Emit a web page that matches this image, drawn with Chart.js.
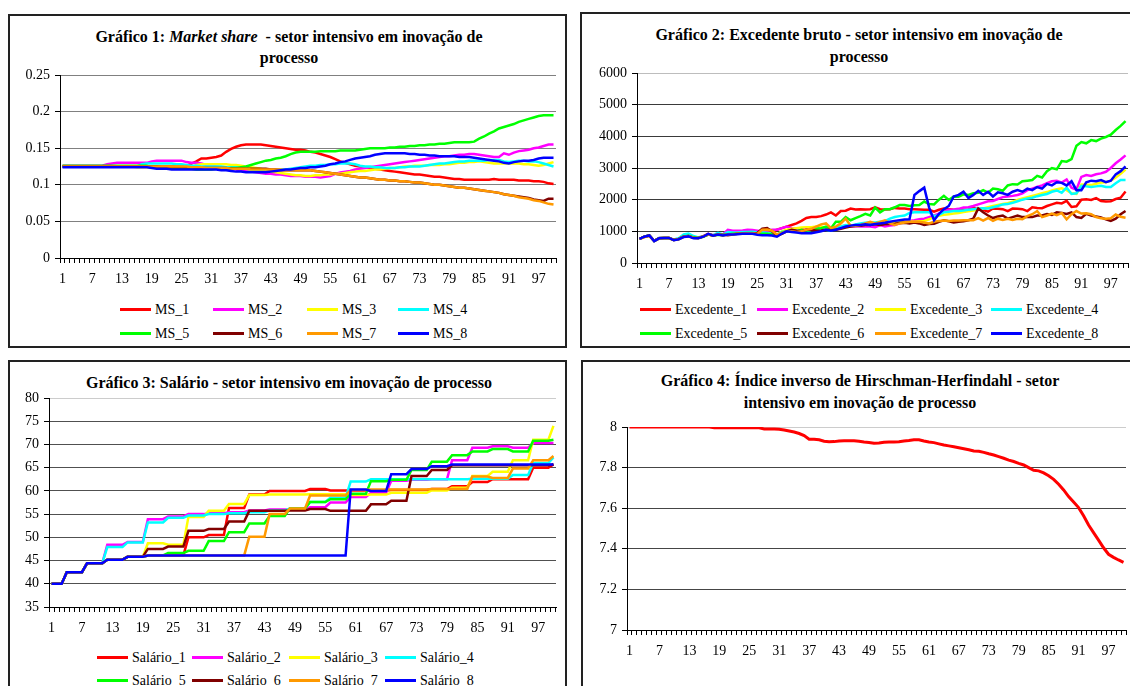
<!DOCTYPE html>
<html>
<head>
<meta charset="utf-8">
<script src="https://cdn.jsdelivr.net/npm/chart.js@4.4.1/dist/chart.umd.min.js"></script>
<style>
  body { margin: 0; width: 1130px; height: 686px; overflow: hidden; background: #fff; position: relative;
         font-family: "Liberation Serif", "Times New Roman", serif; color: #000; }
  .panel { position: absolute; box-sizing: border-box; border: 2px solid #222; }
  canvas { position: absolute; }
  .title { position: absolute; width: 600px; text-align: center; font-weight: bold; font-size: 16px;
           line-height: 18px; white-space: nowrap; }
  .leg { position: absolute; font-size: 14px; line-height: 16px; white-space: nowrap; }
  .leg .sw { display: inline-block; width: 31px; height: 3px; vertical-align: middle; margin-right: 4px; position: relative; top: -1px; }
</style>
</head>
<body>
<div class="panel" style="left:8px;top:14px;width:559px;height:334px"></div>
<div class="panel" style="left:580px;top:12px;width:560px;height:336px"></div>
<div class="panel" style="left:8px;top:360px;width:559px;height:340px"></div>
<div class="panel" style="left:581px;top:360px;width:560px;height:340px"></div>

<div class="title" style="left:-11px;top:28px">Gráfico 1: <i>Market share</i> &nbsp;- setor intensivo em inovação de</div>
<div class="title" style="left:-11px;top:49px">processo</div>
<div class="title" style="left:559px;top:26px">Gráfico 2: Excedente bruto - setor intensivo em inovação de</div>
<div class="title" style="left:559px;top:48px">processo</div>
<div class="title" style="left:-11px;top:374px">Gráfico 3: Salário - setor intensivo em inovação de processo</div>
<div class="title" style="left:560px;top:372px">Gráfico 4: Índice inverso de Hirschman-Herfindahl - setor</div>
<div class="title" style="left:560px;top:394px">intensivo em inovação de processo</div>

<canvas id="c1"></canvas>
<canvas id="c2"></canvas>
<canvas id="c3"></canvas>
<canvas id="c4"></canvas>

<div id="legends"></div>

<script>
// ---- data ----
const periods = Array.from({ length: 100 }, (_, i) => String(i + 1));
const xTickLabels = ['1', '7', '13', '19', '25', '31', '37', '43', '49', '55', '61', '67', '73', '79', '85', '91', '97'];

// Gráfico 1: market share
const msNames = ['MS_1', 'MS_2', 'MS_3', 'MS_4', 'MS_5', 'MS_6', 'MS_7', 'MS_8'];
const msTicks = [0, 0.05, 0.1, 0.15, 0.2, 0.25];
const ms1 = [.125,.125,.125,.125,.125,.125,.125,.125,.125,.125, .125,.125,.125,.125,.125,.125,.125,.125,.125,.125,
  .125,.125,.125,.125,.125,.126,.129,.132,.136,.136, .137,.138,.140,.145,.149,.152,.154,.155,.155,.155,
  .155,.154,.153,.152,.151,.150,.149,.148,.148,.147, .145,.144,.142,.140,.138,.135,.132,.130,.128,.126,
  .125,.124,.123,.122,.121,.120,.119,.118,.117,.116, .115,.114,.114,.113,.112,.111,.111,.110,.109,.108,
  .108,.107,.107,.107,.107,.107,.107,.108,.107,.107, .107,.107,.106,.106,.106,.105,.105,.104,.102,.101];
const ms2 = [.126,.126,.126,.126,.126,.126,.126,.126,.126,.128, .129,.130,.130,.130,.130,.130,.130,.130,.132,.133,
  .133,.133,.133,.133,.133,.131,.130,.130,.129,.127, .126,.125,.124,.123,.122,.121,.120,.119,.118,.117,
  .116,.115,.115,.114,.114,.113,.112,.112,.112,.111, .111,.111,.110,.111,.112,.115,.117,.118,.119,.121,
  .122,.123,.124,.125,.126,.127,.128,.129,.130,.131, .132,.133,.134,.135,.136,.137,.138,.139,.139,.140,
  .141,.141,.142,.142,.141,.140,.139,.138,.138,.143, .141,.144,.146,.147,.148,.150,.151,.153,.155,.155];
const ms3 = [.125,.125,.125,.125,.125,.125,.125,.125,.125,.125, .125,.125,.125,.125,.125,.124,.124,.124,.124,.124,
  .124,.124,.124,.124,.124,.124,.124,.127,.128,.128, .128,.128,.128,.128,.127,.127,.126,.125,.124,.123,
  .122,.120,.118,.117,.116,.115,.114,.113,.113,.112, .112,.113,.113,.114,.114,.115,.115,.116,.117,.118,
  .119,.119,.120,.121,.121,.122,.123,.123,.124,.125, .125,.126,.126,.126,.127,.127,.127,.128,.128,.129,
  .130,.130,.131,.131,.132,.131,.130,.129,.129,.129, .129,.129,.129,.128,.128,.127,.126,.127,.129,.131];
const ms4 = [.125,.125,.125,.125,.125,.125,.125,.125,.125,.125, .125,.125,.125,.125,.125,.125,.128,.129,.129,.129,
  .129,.129,.129,.128,.128,.127,.126,.126,.125,.125, .125,.125,.125,.124,.124,.124,.123,.122,.121,.120,
  .120,.120,.120,.120,.121,.121,.122,.123,.124,.125, .126,.126,.127,.127,.128,.128,.129,.129,.129,.128,
  .126,.125,.125,.124,.124,.123,.123,.123,.124,.124, .125,.125,.125,.126,.127,.128,.129,.129,.130,.131,
  .132,.132,.133,.133,.133,.133,.134,.134,.134,.132, .131,.132,.133,.133,.132,.132,.131,.129,.127,.125];
const ms5 = [.126,.126,.126,.126,.126,.126,.126,.126,.126,.126, .126,.126,.126,.126,.126,.126,.126,.126,.124,.123,
  .122,.122,.122,.122,.122,.122,.122,.121,.121,.121, .121,.122,.122,.122,.123,.123,.124,.125,.127,.129,
  .131,.133,.134,.136,.137,.139,.142,.144,.145,.145, .145,.145,.146,.146,.146,.146,.147,.147,.147,.147,
  .148,.149,.150,.150,.150,.150,.151,.151,.152,.152, .153,.153,.154,.154,.155,.155,.156,.156,.157,.158,
  .158,.158,.158,.159,.163,.166,.170,.173,.177,.179, .181,.183,.186,.188,.190,.192,.194,.195,.195,.195];
const ms6 = [.125,.125,.125,.125,.125,.125,.125,.125,.125,.125, .125,.125,.125,.125,.125,.125,.125,.125,.125,.125,
  .124,.124,.124,.124,.124,.124,.124,.123,.123,.123, .123,.123,.123,.123,.122,.122,.122,.122,.122,.122,
  .122,.122,.121,.121,.120,.120,.120,.120,.120,.120, .120,.119,.118,.117,.116,.115,.114,.113,.112,.111,
  .110,.110,.109,.108,.107,.107,.106,.106,.105,.105, .104,.103,.103,.102,.101,.100,.100,.099,.098,.097,
  .096,.096,.095,.094,.093,.092,.091,.090,.089,.087, .086,.085,.084,.083,.082,.080,.079,.078,.081,.081];
const ms7 = [.125,.125,.125,.125,.125,.125,.125,.125,.125,.125, .125,.125,.125,.125,.125,.125,.125,.125,.125,.125,
  .125,.125,.125,.125,.125,.125,.124,.124,.124,.123, .123,.123,.123,.123,.122,.122,.122,.122,.121,.121,
  .121,.121,.121,.121,.121,.120,.120,.120,.120,.120, .120,.119,.118,.117,.116,.115,.114,.113,.112,.111,
  .110,.110,.109,.108,.107,.107,.106,.106,.105,.105, .104,.103,.103,.102,.101,.100,.100,.099,.098,.097,
  .096,.096,.095,.094,.093,.092,.091,.090,.089,.087, .086,.085,.083,.082,.081,.079,.078,.076,.074,.073];
const ms8 = [.124,.124,.124,.124,.124,.124,.124,.124,.124,.124, .124,.124,.124,.124,.124,.124,.124,.124,.123,.122,
  .122,.122,.121,.121,.121,.121,.121,.121,.121,.121, .121,.121,.120,.120,.119,.118,.118,.117,.117,.117,
  .117,.117,.118,.119,.120,.121,.121,.122,.123,.123, .124,.124,.125,.126,.128,.129,.131,.132,.134,.136,
  .137,.138,.139,.141,.142,.143,.143,.143,.143,.143, .142,.142,.141,.141,.140,.140,.139,.139,.139,.139,
  .138,.138,.138,.137,.136,.135,.134,.133,.132,.130, .129,.131,.132,.133,.133,.134,.136,.137,.137,.137];

// Gráfico 2: excedente bruto
const excNames = ['Excedente_1', 'Excedente_2', 'Excedente_3', 'Excedente_4', 'Excedente_5', 'Excedente_6', 'Excedente_7', 'Excedente_8'];
const excTicks = [0, 1000, 2000, 3000, 4000, 5000, 6000];
const exc1 = [760,820,860,700,780,790,790,730,760,830, 850,800,790,840,900,880,900,880,920,940,
  950,960,950,960,940,1000,1050,1000,1050,1100, 1150,1200,1250,1330,1420,1450,1450,1480,1530,1600,
  1500,1640,1650,1720,1690,1700,1690,1700,1760,1700, 1690,1700,1740,1720,1720,1700,1700,1690,1680,1680,
  1620,1680,1720,1700,1680,1670,1680,1690,1740,1700, 1680,1620,1720,1710,1700,1640,1720,1710,1700,1640,
  1760,1740,1730,1800,1850,1900,1880,1960,1770,1790, 2000,2010,1990,2050,1960,1940,1950,2020,2060,2260];
const exc2 = [760,830,870,700,790,790,800,740,770,840, 870,820,800,850,920,880,920,900,1050,1020,
  1020,1030,1050,1040,1020,1000,1020,1050,1050,1100, 1150,1100,1080,1060,1080,1100,1100,1120,1080,1050,
  1130,1150,1180,1150,1170,1150,1160,1150,1130,1200, 1150,1180,1200,1250,1300,1330,1350,1380,1400,1450,
  1500,1560,1620,1680,1690,1710,1750,1760,1800,1850, 1900,1950,1960,2020,2080,2100,2120,2150,2200,2300,
  2350,2400,2450,2520,2580,2600,2540,2640,2380,2320, 2720,2780,2750,2800,2830,2880,3000,3150,3270,3400];
const exc3 = [760,820,860,700,780,790,790,730,760,830, 860,810,790,840,910,870,900,880,920,930,
  940,950,950,950,930,920,930,900,900,1000, 1050,1080,1100,1120,1130,1130,1150,1150,1100,1080,
  1120,1150,1180,1160,1200,1220,1200,1250,1230,1250, 1260,1280,1280,1300,1300,1310,1300,1320,1330,1380,
  1450,1490,1520,1540,1560,1580,1610,1630,1660,1690, 1720,1760,1800,1830,1860,1890,1940,1990,2040,2080,
  2120,2160,2200,2240,2290,2330,2360,2300,2200,2180, 2480,2470,2460,2500,2540,2550,2600,2700,2820,2950];
const exc4 = [760,830,870,700,790,790,790,740,780,900, 930,850,810,840,900,880,950,900,980,960,
  960,980,980,990,970,960,950,940,900,980, 1000,1020,1020,1000,1010,1050,1080,1100,1050,1020,
  1100,1150,1200,1180,1220,1250,1270,1280,1280,1300, 1320,1400,1450,1480,1500,1580,1600,1600,1600,1600,
  1480,1520,1600,1620,1640,1640,1660,1680,1700,1720, 1730,1720,1760,1800,1850,1860,1900,1950,2000,2040,
  2060,2110,2150,2180,2250,2290,2220,2380,2180,2200, 2440,2420,2400,2420,2440,2400,2400,2520,2620,2620];
const exc5 = [760,830,870,700,780,790,790,730,760,830, 860,810,790,830,900,870,890,880,910,920,
  930,940,950,950,930,920,920,900,880,960, 1000,1020,1000,1050,1020,1050,1080,1100,1150,1100,
  1300,1300,1450,1350,1420,1480,1550,1500,1750,1600, 1700,1700,1760,1830,1830,1800,1820,1830,1940,1860,
  1850,2000,2120,1990,2100,2090,2170,2150,2200,2220, 2300,2220,2350,2330,2280,2450,2490,2480,2580,2600,
  2620,2750,2700,2900,3000,2960,3220,3200,3280,3700, 3820,3780,3880,3850,3930,3980,4050,4200,4330,4480];
const exc6 = [760,830,870,700,780,790,790,730,760,840, 850,800,790,840,910,870,900,890,880,900,
  920,920,930,930,950,1080,1100,1000,860,920, 1000,1050,1020,1000,1050,1050,1020,1030,1050,1050,
  1050,1080,1120,1150,1170,1180,1200,1200,1220,1200, 1220,1230,1240,1260,1270,1250,1280,1250,1200,1230,
  1240,1300,1350,1320,1280,1300,1320,1350,1400,1720, 1600,1500,1420,1470,1500,1400,1450,1500,1450,1450,
  1450,1500,1500,1550,1520,1600,1580,1550,1600,1450, 1420,1550,1500,1470,1440,1380,1330,1400,1540,1640];
const exc7 = [760,820,860,700,780,790,790,730,760,830, 850,800,790,840,900,870,900,880,900,910,
  920,930,940,940,920,1050,1060,1020,900,950, 1000,1000,980,1000,1050,1080,1150,1220,1250,1100,
  1150,1250,1400,1180,1180,1200,1250,1300,1250,1300, 1350,1250,1200,1250,1280,1300,1300,1300,1280,1250,
  1300,1330,1340,1330,1340,1340,1350,1350,1350,1420, 1340,1420,1330,1400,1360,1400,1360,1400,1380,1480,
  1540,1640,1450,1500,1560,1510,1580,1380,1540,1640, 1560,1570,1540,1450,1410,1400,1410,1530,1460,1430];
const exc8 = [760,830,870,690,780,790,790,720,750,820, 840,780,780,830,920,860,900,870,900,900,
  910,920,920,920,890,880,880,870,830,930, 1000,980,960,940,950,940,970,1000,1050,1020,
  1050,1100,1150,1180,1200,1200,1220,1200,1230,1250, 1270,1300,1330,1350,1370,1380,2150,2270,2380,1750,
  1350,1550,1700,1800,2100,2150,2250,2050,2150,2280, 2150,2250,2100,2230,2200,2150,2250,2300,2250,2350,
  2300,2400,2350,2500,2450,2550,2530,2450,2580,2300, 2300,2550,2600,2580,2620,2550,2600,2800,2900,3050];

// Gráfico 3: salário
const salNames = ['Salário_1', 'Salário_2', 'Salário_3', 'Salário_4', 'Salário_5', 'Salário_6', 'Salário_7', 'Salário_8'];
const salTicks = [35, 40, 45, 50, 55, 60, 65, 70, 75, 80];
const sal1 = [40,40,40,
  42.5,42.5,42.5,42.5, 44.4,44.4,44.4,44.4, 45.2,45.2,45.2,45.2, 45.8,45.8,45.8,45.8,
  46.1,46.1,46.1,46.1, 46.1,46.1,46.1,46.1, 50,50,50,50, 50.5,50.5,50.5,50.5,
  56.3,56.3,56.3,56.3, 59.2,59.2,59.2,59.2, 60,60,60,60, 60,60,60,60,
  60.4,60.4,60.4,60.4, 60.1,60.1,60.1,60.1, 60.1,60.1,60.1,60.1, 60.1,60.1,60.1,60.1,
  60.2,60.2,60.2,60.2, 60.2,60.2,60.2,60.2, 60.4,60.4,60.4,60.4, 61,61,61,61,
  61.9,61.9,61.9,61.9, 62.5,62.5,62.5,62.5, 62.5,62.5,62.5,62.5, 65,65,65,65,
  65.7];
const sal2 = [40,40,40,
  42.5,42.5,42.5,42.5, 44.4,44.4,44.4,44.4, 48.4,48.4,48.4,48.4, 49,49,49,49,
  53.9,53.9,53.9,53.9, 54.5,54.5,54.5,54.5, 55,55,55,55, 55.2,55.2,55.2,55.2,
  55.4,55.4,55.4,55.4, 55.8,55.8,55.8,55.8, 56,56,56,56, 56,56,56,56,
  56.5,56.5,56.5,56.5, 57.5,57.5,57.5,57.5, 58.7,58.7,58.7,58.7, 59.6,59.6,59.6,59.6,
  62.2,62.2,62.2,62.2, 62.4,62.4,62.4,62.4, 62.5,62.5,62.5,62.5, 66.6,66.6,66.6,66.6,
  69.3,69.3,69.3,69.3, 69.6,69.6,69.6,69.6, 69.3,69.3,69.3,69.3, 70.3,70.3,70.3,70.3,
  70.3];
const sal3 = [40,40,40,
  42.5,42.5,42.5,42.5, 44.4,44.4,44.4,44.4, 45.2,45.2,45.2,45.2, 45.8,45.8,45.8,45.8,
  48.7,48.7,48.7,48.7, 48.4,48.4,48.4,48.4, 54.4,54.4,54.4,54.4, 55.7,55.7,55.7,55.7,
  57.2,57.2,57.2,57.2, 59.1,59.1,59.1,59.1, 59.2,59.2,59.2,59.2, 59.2,59.2,59.2,59.2,
  59.3,59.3,59.3,59.3, 59.3,59.3,59.3,59.3, 59.1,59.1,59.1,59.1, 59.2,59.2,59.2,59.2,
  59.6,59.6,59.6,59.6, 59.6,59.6,59.6,59.6, 60.1,60.1,60.1,60.1, 60.7,60.7,60.7,60.7,
  63.2,63.2,63.2,63.2, 64.1,64.1,64.1,64.1, 66.6,66.6,66.6,66.6, 71,71,71,71,
  74];
const sal4 = [40,40,40,
  42.5,42.5,42.5,42.5, 44.4,44.4,44.4,44.4, 47.9,47.9,47.9,47.9, 48.9,48.9,48.9,48.9,
  53.2,53.2,53.2,53.2, 54.2,54.2,54.2,54.2, 54.7,54.7,54.7,54.7, 55,55,55,55,
  55.2,55.2,55.2,55.2, 55.4,55.4,55.4,55.4, 55.8,55.8,55.8,55.8, 56.2,56.2,56.2,56.2,
  57.6,57.6,57.6,57.6, 58.5,58.5,58.5,58.5, 62,62,62,62, 62.5,62.5,62.5,62.5,
  62.5,62.5,62.5,62.5, 62.5,62.5,62.5,62.5, 62.5,62.5,62.5,62.5, 62.5,62.5,62.5,62.5,
  62.6,62.6,62.6,62.6, 62.6,62.6,62.6,62.6, 63.4,63.4,63.4,63.4, 66,66,66,66,
  67.2];
const sal5 = [40,40,40,
  42.5,42.5,42.5,42.5, 44.4,44.4,44.4,44.4, 45.2,45.2,45.2,45.2, 45.8,45.8,45.8,45.8,
  46.1,46.1,46.1,46.1, 46.6,46.6,46.6,46.6, 47.1,47.1,47.1,47.1, 49.2,49.2,49.2,49.2,
  51.1,51.1,51.1,51.1, 53,53,53,53, 54.6,54.6,54.6,54.6, 56.2,56.2,56.2,56.2,
  57.6,57.6,57.6,57.6, 58.2,58.2,58.2,58.2, 59.4,59.4,59.4,59.4, 62.1,62.1,62.1,62.1,
  62.4,62.4,62.4,62.4, 64.5,64.5,64.5,64.5, 66.3,66.3,66.3,66.3, 67.7,67.7,67.7,67.7,
  68.5,68.5,68.5,68.5, 69,69,69,69, 68.5,68.5,68.5,68.5, 70.8,70.8,70.8,70.8,
  71];
const sal6 = [40,40,40,
  42.5,42.5,42.5,42.5, 44.4,44.4,44.4,44.4, 45.2,45.2,45.2,45.2, 45.8,45.8,45.8,45.8,
  47.5,47.5,47.5,47.5, 48,48,48,48, 51.4,51.4,51.4,51.4, 51.8,51.8,51.8,51.8,
  53.4,53.4,53.4,53.4, 55.7,55.7,55.7,55.7, 55.7,55.7,55.7,55.7, 55.8,55.8,55.8,55.8,
  56.1,56.1,56.1,56.1, 55.7,55.7,55.7,55.7, 55.7,55.7,55.7,55.7, 57.1,57.1,57.1,57.1,
  57.9,57.9,57.9,57.9, 63.2,63.2,63.2,63.2, 64.5,64.5,64.5,64.5, 65.5,65.5,65.5,65.5,
  65.5,65.5,65.5,65.5, 65.5,65.5,65.5,65.5, 65.5,65.5,65.5,65.5, 65.5,65.5,65.5,65.5,
  65.7];
const sal7 = [40,40,40,
  42.5,42.5,42.5,42.5, 44.4,44.4,44.4,44.4, 45.2,45.2,45.2,45.2, 45.8,45.8,45.8,45.8,
  46.1,46.1,46.1,46.1, 46.1,46.1,46.1,46.1, 46.1,46.1,46.1,46.1, 46.1,46.1,46.1,46.1,
  46.1,46.1,46.1,46.1, 50.1,50.1,50.1,50.1, 55,55,55,55, 56.2,56.2,56.2,56.2,
  59,59,59,59, 59,59,59,59, 60.2,60.2,60.2,60.2, 60.3,60.3,60.3,60.3,
  60.3,60.3,60.3,60.3, 60.3,60.3,60.3,60.3, 60.4,60.4,60.4,60.4, 60.4,60.4,60.4,60.4,
  63.1,63.1,63.1,63.1, 62.8,62.8,62.8,62.8, 64.8,64.8,64.8,64.8, 66.6,66.6,66.6,66.6,
  67.5];
const sal8 = [40,40,40,
  42.5,42.5,42.5,42.5, 44.4,44.4,44.4,44.4, 45.2,45.2,45.2,45.2, 45.8,45.8,45.8,45.8,
  46.1,46.1,46.1,46.1, 46.1,46.1,46.1,46.1, 46.1,46.1,46.1,46.1, 46.1,46.1,46.1,46.1,
  46.1,46.1,46.1,46.1, 46.1,46.1,46.1,46.1, 46.1,46.1,46.1,46.1, 46.1,46.1,46.1,46.1,
  46.1,46.1,46.1,46.1, 46.1,46.1,46.1,46.1, 60.3,60.3,60.3,60.3, 60,60,60,60,
  63.6,63.6,63.6,63.6, 64.7,64.7,64.7,64.7, 65.3,65.3,65.3,65.3, 65.7,65.7,65.7,65.7,
  65.7,65.7,65.7,65.7, 65.7,65.7,65.7,65.7, 65.7,65.7,65.7,65.7, 65.7,65.7,65.7,65.7,
  65.7];

// Gráfico 4: índice inverso de Hirschman-Herfindahl
const hhiTicks = [7, 7.2, 7.4, 7.6, 7.8, 8];
const hhi = [8,8,8,8,8,8,8,8,8,8, 8,8,8,8,8,8,8,7.996,7.996,7.996,
  7.996,7.996,7.996,7.996,7.996,7.996,7.996,7.990,7.990,7.990, 7.989,7.985,7.980,7.975,7.968,7.958,7.940,7.940,7.937,7.930,
  7.927,7.928,7.931,7.932,7.932,7.932,7.930,7.926,7.924,7.920, 7.921,7.925,7.926,7.926,7.927,7.931,7.933,7.937,7.937,7.931,
  7.926,7.923,7.917,7.911,7.907,7.903,7.898,7.893,7.888,7.882, 7.880,7.875,7.868,7.862,7.854,7.846,7.837,7.830,7.821,7.813,
  7.800,7.787,7.784,7.774,7.760,7.742,7.718,7.690,7.657,7.630, 7.603,7.563,7.517,7.480,7.443,7.405,7.373,7.358,7.345,7.333];

// ---- styling ----
const seriesColors = ['#FF0000', '#FF00FF', '#FFFF00', '#00FFFF', '#00FF00', '#800000', '#FF9900', '#0000FF'];
const FONT = { family: '"Liberation Serif", "Times New Roman", serif', size: 14 };

function fmtTick(dec) {
  return v => String(Number(Number(v).toFixed(dec)));
}

// area = plot rectangle in page pixels
function buildChart(id, area, names, series, ticks, dec, gridColor, topGridColor, lineWidth) {
  const canvas = document.getElementById(id);
  const padL = 56, padT = 20, padR = 14, padB = 34;
  const w = area.r - area.l + padL + padR;
  const h = area.b - area.t + padT + padB;
  canvas.width = w;
  canvas.height = h;
  canvas.style.left = (area.l - padL) + 'px';
  canvas.style.top = (area.t - padT) + 'px';
  canvas.style.width = w + 'px';
  canvas.style.height = h + 'px';
  const yMax = ticks[ticks.length - 1];

  return new Chart(canvas, {
    type: 'line',
    data: {
      labels: periods,
      datasets: series.map((d, k) => ({
        label: names[k],
        data: d,
        borderColor: series.length === 1 ? '#FF0000' : seriesColors[k],
        backgroundColor: series.length === 1 ? '#FF0000' : seriesColors[k],
        borderWidth: lineWidth,
        pointRadius: 0,
        tension: 0,
        fill: false,
        order: series.length - 1 - k   // last series drawn on top, like the original
      }))
    },
    options: {
      responsive: false,
      animation: false,
      events: [],
      layout: { padding: { left: 0, top: padT, right: padR, bottom: 0 } },
      plugins: { legend: { display: false }, tooltip: { enabled: false } },
      scales: {
        x: {
          type: 'category',
          offset: true,
          grid: { display: true, offset: true, drawOnChartArea: false, drawTicks: true, tickLength: 5, color: '#000', tickColor: '#000' },
          border: { display: true, color: '#000', width: 1 },
          ticks: {
            autoSkip: false, maxRotation: 0, minRotation: 0, padding: 8, color: '#000', font: FONT,
            callback: (v, i) => xTickLabels.includes(periods[i]) ? periods[i] : ''
          },
          afterFit: s => { s.height = padB; }
        },
        y: {
          min: ticks[0],
          max: yMax,
          afterBuildTicks: s => { s.ticks = ticks.map(v => ({ value: v })); },
          grid: {
            color: c => (c.tick && Math.abs(c.tick.value - yMax) < 1e-9) ? topGridColor : gridColor,
            tickColor: '#000', tickLength: 5, lineWidth: 1
          },
          border: { display: true, color: '#000', width: 1 },
          ticks: { padding: 5, color: '#000', font: FONT, callback: fmtTick(dec) },
          afterFit: s => { s.width = padL; }
        }
      }
    }
  });
}

buildChart('c1', { l: 60, t: 75, r: 556, b: 258 }, msNames, [ms1, ms2, ms3, ms4, ms5, ms6, ms7, ms8], msTicks, 2, '#808080', '#808080', 2.5);
buildChart('c2', { l: 637, t: 73, r: 1128, b: 263 }, excNames, [exc1, exc2, exc3, exc4, exc5, exc6, exc7, exc8], excTicks, 0, '#3a3a3a', '#bdbdbd', 2.5);
buildChart('c3', { l: 49, t: 398, r: 556, b: 607 }, salNames, [sal1, sal2, sal3, sal4, sal5, sal6, sal7, sal8], salTicks, 0, '#505050', '#cccccc', 2.5);
buildChart('c4', { l: 627, t: 427, r: 1126, b: 630 }, ['HHI'], [hhi], hhiTicks, 1, '#454545', '#cccccc', 3);

// html legends (4 per row, two rows)
function addLegend(names, cols, rows) {
  const box = document.getElementById('legends');
  names.forEach((n, k) => {
    const el = document.createElement('div');
    el.className = 'leg';
    el.style.left = cols[k % 4] + 'px';
    el.style.top = (rows[Math.floor(k / 4)] - 8) + 'px';
    el.innerHTML = '<span class="sw" style="background:' + seriesColors[k] + '"></span>' + n;
    box.appendChild(el);
  });
}
addLegend(msNames, [120, 213, 307, 398], [310, 334]);
addLegend(excNames, [640, 757, 875, 991], [310, 334]);
addLegend(salNames, [97, 192, 289, 385], [658, 681]);
</script>
</body>
</html>
